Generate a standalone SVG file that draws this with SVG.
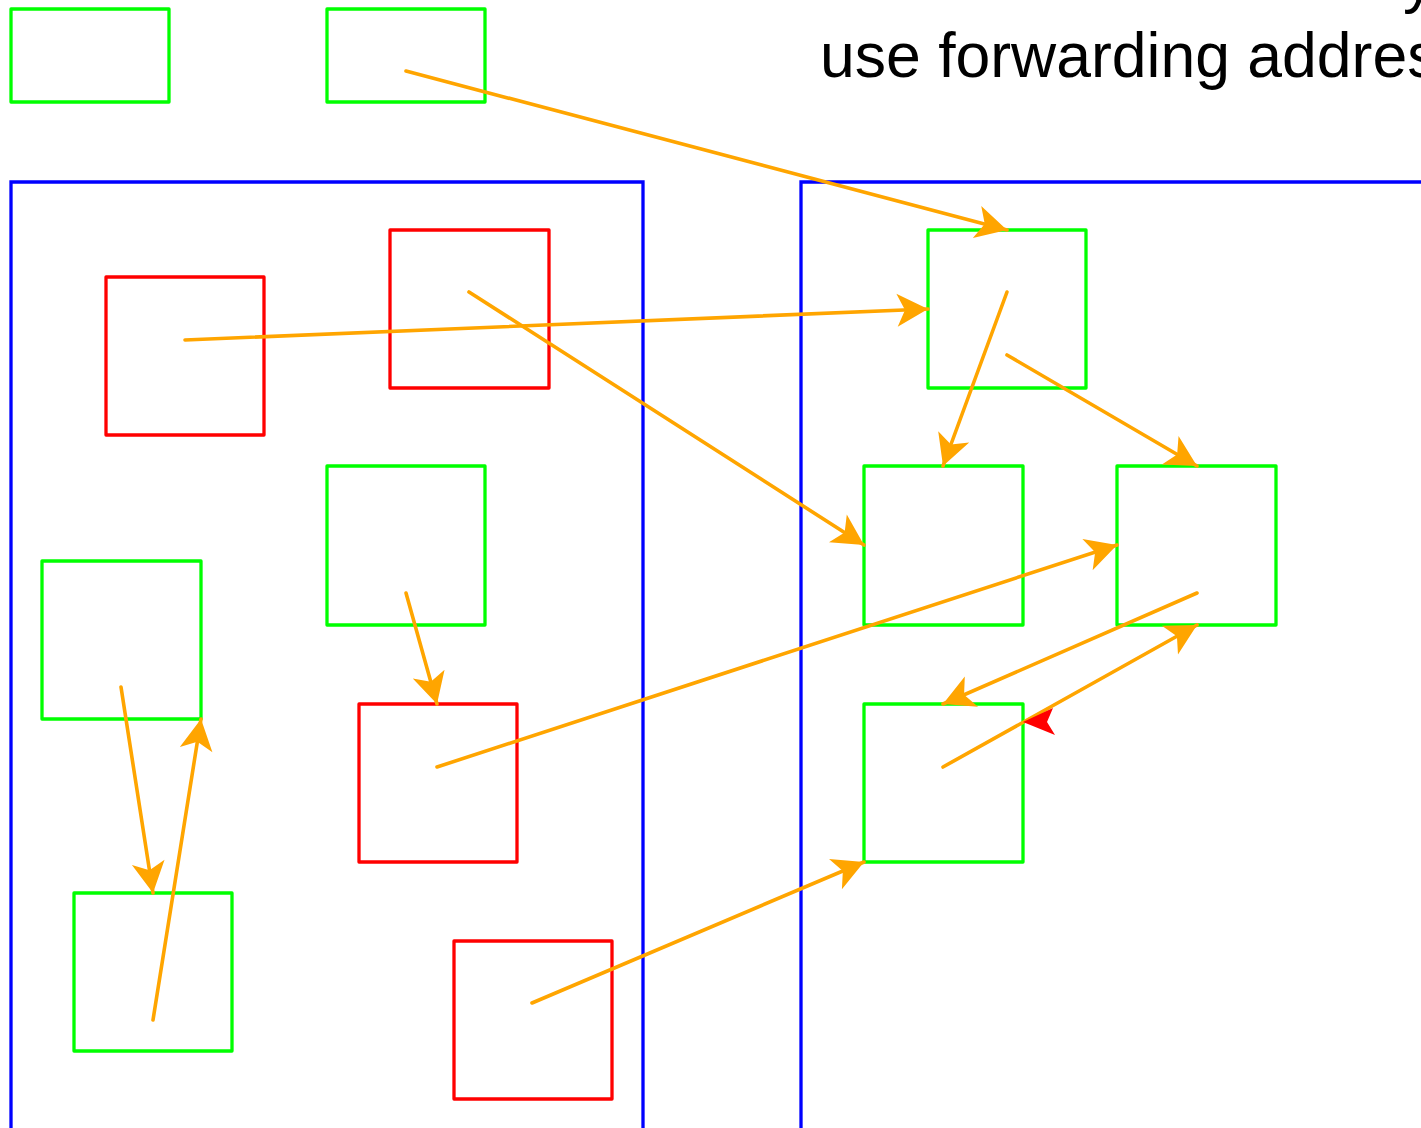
<svg xmlns="http://www.w3.org/2000/svg" width="1421" height="1128" viewBox="0 0 1421 1128">
<style>
.g{fill:none;stroke:#00ff00;stroke-width:3.3;stroke-linejoin:round}
.r{fill:none;stroke:#ff0000;stroke-width:3.3;stroke-linejoin:round}
.b{fill:none;stroke:#0000ff;stroke-width:3.3}
.c{fill:none;stroke:#ffa500;stroke-width:3.6;stroke-linecap:round;marker-end:url(#ah)}
.t{font-family:"Liberation Sans",Arial,sans-serif;font-size:62.5px;fill:#000}
</style>
<defs>
<marker id="ah" markerUnits="userSpaceOnUse" viewBox="-34 -18 36 36" markerWidth="36" markerHeight="36" refX="0" refY="0" orient="auto">
<path d="M0,0 L-31,-16.5 L-23,0 L-31,16.5 Z" fill="#ffa500"/>
</marker>
</defs>
<rect width="1421" height="1128" fill="#fff"/>
<g id="label">
<text class="t" x="1403" y="1">y</text>
<text class="t" x="820" y="77">use forwarding addres</text>
</g>
<g id="containers">
<path class="b" d="M11,1128 L11,182 L643,182 L643,1128"/>
<path class="b" d="M801,1128 L801,182 L1421,182"/>
</g>
<g id="n-top1"><rect class="g" x="11" y="9" width="158" height="93"/></g>
<g id="n-top2"><rect class="g" x="327" y="9" width="158" height="93"/></g>
<g id="n-a"><rect class="r" x="106" y="277" width="158" height="158"/></g>
<g id="n-b"><rect class="r" x="390" y="230" width="159" height="158"/></g>
<g id="n-c"><rect class="g" x="327" y="466" width="158" height="159"/></g>
<g id="n-d"><rect class="g" x="42" y="561" width="159" height="158"/></g>
<g id="n-e"><rect class="r" x="359" y="704" width="158" height="158"/></g>
<g id="n-f"><rect class="g" x="74" y="893" width="158" height="158"/></g>
<g id="n-g"><rect class="r" x="454" y="941" width="158" height="158"/></g>
<g id="n-h"><rect class="g" x="928" y="230" width="158" height="158"/></g>
<g id="n-i"><rect class="g" x="864" y="466" width="159" height="159"/></g>
<g id="n-j"><rect class="g" x="1117" y="466" width="159" height="159"/></g>
<g id="n-k"><rect class="g" x="864" y="704" width="159" height="158"/></g>
<g id="connectors">
<line class="c" x1="406" y1="71" x2="1007" y2="230"/>
<line class="c" x1="185" y1="340" x2="928" y2="309"/>
<line class="c" x1="469" y1="292" x2="864" y2="545"/>
<line class="c" x1="1007" y1="292" x2="943" y2="466"/>
<line class="c" x1="1007" y1="355" x2="1197" y2="466"/>
<line class="c" x1="437" y1="767" x2="1117" y2="545"/>
<line class="c" x1="1197" y1="593" x2="943" y2="704"/>
<line class="c" x1="943" y1="767" x2="1197" y2="625"/>
<line class="c" x1="406" y1="593" x2="437" y2="704"/>
<line class="c" x1="121" y1="687" x2="153" y2="893"/>
<line class="c" x1="153" y1="1020" x2="201" y2="719"/>
<line class="c" x1="532" y1="1003" x2="864" y2="862"/>
<polygon points="1023,722 1053,708 1047,722 1055,735" fill="#ff0000"/>
</g>
</svg>
